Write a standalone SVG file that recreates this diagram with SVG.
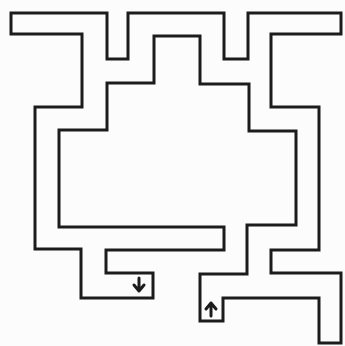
<svg xmlns="http://www.w3.org/2000/svg" width="345" height="346" viewBox="0 0 345 346">
<style>
.wall{fill:none;stroke:#1c1c1c;stroke-width:3;stroke-linejoin:miter}
.arr{fill:none;stroke:#1c1c1c;stroke-width:3;stroke-linecap:round;stroke-linejoin:round}
</style>
<rect width="345" height="346" fill="#fcfcfc"/>
<path class="wall" d="M59,130 L59,227 L224,227 L224,250 L106,250 L106,273 L153,273 L153,298 L81,298 L81,249 L35,249 L35,107 L82,107 L82,34 L11,34 L11,13 L107,13 L107,59 L128,59 L128,13 L224,13 L224,59 L248,59 L248,13 L341,13 L341,34 L271,34 L271,107 L319,107 L319,250 L271,250 L271,273 L341,273 L341,343 L319,343 L319,298 L223,298 L223,321 L200,321 L200,274 L247,274 L247,225 L296,225 L296,131 L249,131 L249,84 L200,84 L200,36 L154,36 L154,83 L107,83 L107,130 Z"/>
<path class="arr" d="M139,278 L139,291 M134,285 L139,291 L144,285"/>
<path class="arr" d="M211,316 L211,303 M206,309 L211,303 L216,309"/>
</svg>
